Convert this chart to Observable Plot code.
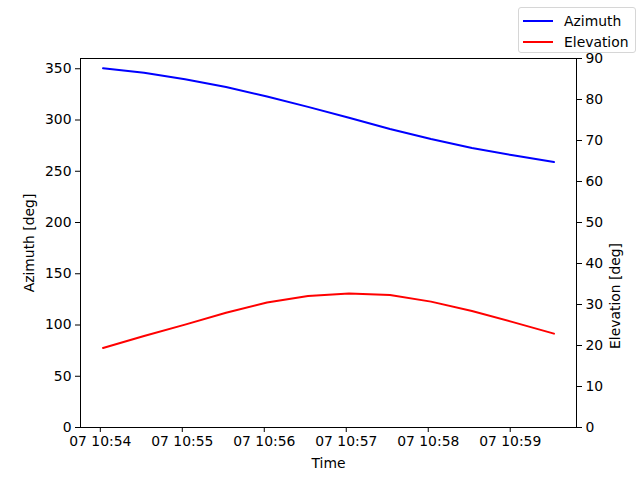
<!DOCTYPE html>
<html>
<head>
<meta charset="utf-8">
<script src="https://cdn.jsdelivr.net/npm/d3@7"></script>
<script src="https://cdn.jsdelivr.net/npm/@observablehq/plot@0.6"></script>
<style>
  html, body { margin: 0; padding: 0; background: #fff; }
  #wrap { position: relative; width: 640px; height: 480px; font-family: "DejaVu Sans", sans-serif; }
  #legend { position: absolute; left: 518px; top: 7px; width: 118px; height: 46px; box-sizing: border-box;
            border: 1px solid #d6d6d6; border-radius: 3px; background: rgba(255,255,255,0.8);
            font-size: 13.9px; color: #000; padding-top: 2px; }
  .row { display: flex; align-items: center; height: 21px; }
  .sw { width: 30px; height: 2px; margin-left: 4px; margin-right: 11px; }
</style>
</head>
<body>
<div id="wrap"><div id="legend"></div></div>
<script>
// ---- data ----
const day = 7;
const times = ["10:54:02","10:54:32","10:55:02","10:55:32","10:56:02","10:56:32",
               "10:57:02","10:57:32","10:58:02","10:58:32","10:59:02","10:59:32"];
const azimuth   = [350.6, 346.0, 339.8, 332.2, 322.9, 312.8, 302.2, 291.2, 281.4, 272.6, 265.6, 259.0];
const elevation = [19.4, 22.3, 25.1, 28.0, 30.5, 32.1, 32.7, 32.3, 30.7, 28.4, 25.7, 22.9];
const xTicks = ["10:54:00","10:55:00","10:56:00","10:57:00","10:58:00","10:59:00"];
const azTicks = [0, 50, 100, 150, 200, 250, 300, 350];
const elTicks = [0, 10, 20, 30, 40, 50, 60, 70, 80, 90];
const seriesNames = ["Azimuth", "Elevation"];
const seriesColors = ["blue", "red"];

const toDate = s => { const [h, m, sec] = s.split(":").map(Number); return new Date(Date.UTC(2024, 0, day, h, m, sec)); };
const T = times.map(toDate);
const span = T[T.length - 1] - T[0];
const xDomain = [new Date(+T[0] - 0.05 * span), new Date(+T[T.length - 1] + 0.05 * span)];
const elFactor = 360 / 90;

const azData = T.map((t, i) => ({t, v: azimuth[i]}));
const elData = T.map((t, i) => ({t, v: elevation[i] * elFactor}));

const fmt = d3.utcFormat("%d %H:%M");

const chart = Plot.plot({
  width: 640, height: 480,
  marginLeft: 80, marginRight: 64, marginTop: 58, marginBottom: 53,
  style: { fontFamily: "DejaVu Sans, sans-serif", fontSize: "13.9px", color: "black", background: "white" },
  x: { type: "utc", domain: xDomain },
  y: { domain: [0, 360] },
  marks: [
    Plot.axisX(xTicks.map(toDate), { tickFormat: fmt, tickSize: 5, tickPadding: 4,
      label: "Time", labelAnchor: "center", labelArrow: "none", labelOffset: 40 }),
    Plot.axisY(azTicks, { anchor: "left", tickSize: 5, tickPadding: 4,
      label: "Azimuth [deg]", labelAnchor: "center", labelArrow: "none", labelOffset: 56 }),
    Plot.axisY(elTicks.map(v => v * elFactor), { anchor: "right", tickFormat: d => d / elFactor, tickSize: 5, tickPadding: 4,
      label: null }),
    Plot.text(["Elevation [deg]"], { frameAnchor: "right", text: d => d, rotate: -90, dx: 39,
      lineAnchor: "middle", fill: "black" }),
    Plot.lineY(azData, { x: "t", y: "v", stroke: seriesColors[0], strokeWidth: 2 }),
    Plot.lineY(elData, { x: "t", y: "v", stroke: seriesColors[1], strokeWidth: 2 }),
    Plot.frame({ stroke: "black", strokeWidth: 1 })
  ]
});
document.getElementById("wrap").prepend(chart);

const legend = document.getElementById("legend");
seriesNames.forEach((n, i) => {
  const row = document.createElement("div");
  row.className = "row";
  row.innerHTML = `<div class="sw" style="background:${seriesColors[i]}"></div><span>${n}</span>`;
  legend.appendChild(row);
});
</script>
</body>
</html>
